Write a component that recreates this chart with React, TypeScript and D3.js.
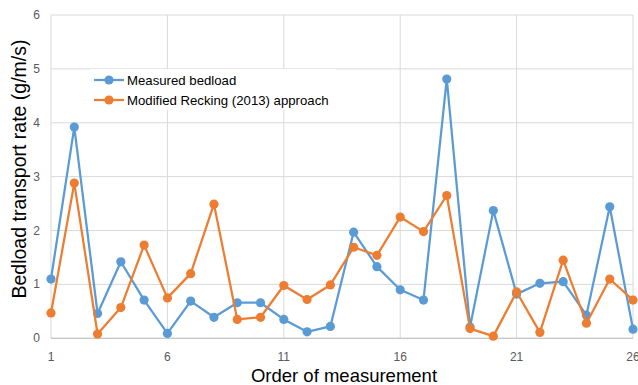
import React from "react";
import * as d3 from "d3";

const orders = d3.range(1, 27);
const measured = [1.1, 3.92, 0.46, 1.42, 0.71, 0.09, 0.69, 0.39, 0.66, 0.66, 0.35, 0.12, 0.22, 1.97, 1.33, 0.9, 0.71, 4.81, 0.21, 2.37, 0.82, 1.02, 1.05, 0.43, 2.44, 0.17];
const recking = [0.47, 2.88, 0.08, 0.57, 1.73, 0.75, 1.2, 2.49, 0.35, 0.39, 0.98, 0.72, 0.99, 1.69, 1.54, 2.25, 1.98, 2.65, 0.18, 0.04, 0.86, 0.11, 1.45, 0.28, 1.1, 0.71];
const xTicks = [1, 6, 11, 16, 21, 26];
const yTicks = [0, 1, 2, 3, 4, 5, 6];
const seriesNames = ["Measured bedload", "Modified Recking (2013) approach"];
const colors = ["#5B9BD5", "#ED7D31"];

const W = 638;
const H = 385;
const margin = { left: 51, right: 5, top: 15, bottom: 46.7 };
const font = "'Liberation Sans', Arial, sans-serif";

export default function App() {
  const x = d3.scaleLinear().domain([1, 26]).range([margin.left, W - margin.right]);
  const y = d3.scaleLinear().domain([0, 6]).range([H - margin.bottom, margin.top]);
  const line = d3
    .line<number>()
    .x((_, i) => x(orders[i]))
    .y((d) => y(d));
  const series = [measured, recking];

  return (
    <svg
      width={W}
      height={H}
      style={{ position: "absolute", left: 0, top: 0, background: "#fff" }}
      fontFamily={font}
    >
      {/* grid */}
      {yTicks.map((t) => (
        <line key={"gy" + t} x1={x(1)} x2={x(26)} y1={y(t)} y2={y(t)} stroke="#d9d9d9" strokeWidth={1} />
      ))}
      {xTicks.map((t) => (
        <line key={"gx" + t} x1={x(t)} x2={x(t)} y1={y(0)} y2={y(6)} stroke="#d9d9d9" strokeWidth={1} />
      ))}
      <line x1={x(1)} x2={x(26)} y1={y(0)} y2={y(0)} stroke="#bfbfbf" strokeWidth={1} />

      {/* tick labels */}
      {yTicks.map((t) => (
        <text key={"ly" + t} x={40} y={y(t) + 4} textAnchor="end" fontSize={12} fill="#595959">
          {t}
        </text>
      ))}
      {xTicks.map((t) => (
        <text key={"lx" + t} x={x(t)} y={361} textAnchor="middle" fontSize={12} fill="#595959">
          {t}
        </text>
      ))}

      {/* axis titles */}
      <text x={344} y={382} textAnchor="middle" fontSize={18.5} fill="#000">
        Order of measurement
      </text>
      <text
        transform="translate(26,169) rotate(-90)"
        textAnchor="middle"
        fontSize={19.5}
        fill="#000"
      >
        Bedload transport rate (g/m/s)
      </text>

      {/* series */}
      {series.map((s, k) => (
        <g key={"s" + k}>
          <path d={line(s) || ""} fill="none" stroke={colors[k]} strokeWidth={2.25} strokeLinejoin="round" />
          {s.map((v, i) => (
            <circle key={i} cx={x(orders[i])} cy={y(v)} r={4.6} fill={colors[k]} />
          ))}
        </g>
      ))}

      {/* legend */}
      <rect x={90} y={69} width={246} height={41} fill="#fff" />
      {seriesNames.map((name, k) => {
        const cy = 80 + k * 20;
        return (
          <g key={"lg" + k}>
            <line x1={94} x2={124} y1={cy} y2={cy} stroke={colors[k]} strokeWidth={2.25} />
            <circle cx={109} cy={cy} r={4.6} fill={colors[k]} />
            <text x={127} y={cy + 4.5} fontSize={13.2} fill="#000">
              {name}
            </text>
          </g>
        );
      })}
    </svg>
  );
}
